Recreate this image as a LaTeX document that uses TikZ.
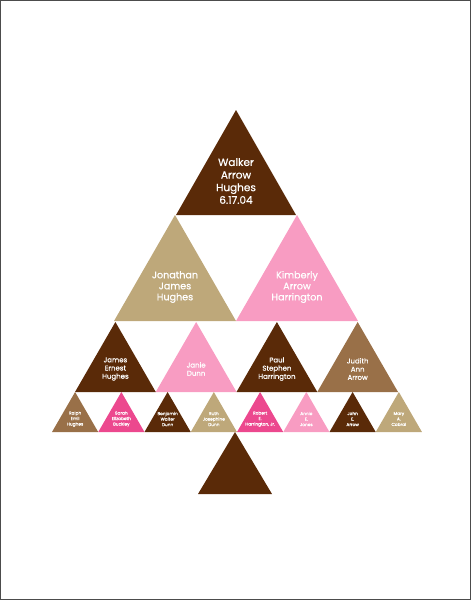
\documentclass[tikz,border=0pt]{standalone}
\usepackage{fontspec}
\setmainfont{Poppins}
\newfontfamily\namefont{Poppins}[FakeBold=0.6]
\definecolor{darkbrown}{RGB}{90,42,8}
\definecolor{midbrown}{RGB}{153,112,72}
\definecolor{khaki}{RGB}{190,168,122}
\definecolor{lightpink}{RGB}{248,156,194}
\definecolor{hotpink}{RGB}{236,72,142}
\tikzset{nametext/.style={text=white,align=center,inner sep=0pt}}

\begin{document}
\begin{tikzpicture}[x=1pt,y=-1pt]
    \useasboundingbox (0,0) rectangle (471,600);
    % Marco de la hoja.
    \draw[black!70,line width=1.2pt] (0.6,0.6) rectangle (470.4,599.4);

    % Vértice superior.
    \fill[darkbrown] (236,110) -- (296,215) -- (176,215) -- cycle;
    \node[nametext,font=\namefont\fontsize{10.5}{12.6}\selectfont] (walker) at (236,181)
        {Walker\\Arrow\\Hughes\\6.17.04};

    % Padres.
    \foreach \i/\col/\nm/\txt in {0/khaki/jonathan/{Jonathan\\James\\Hughes},
        1/lightpink/kimberly/{Kimberly\\Arrow\\Harrington}}{
        \pgfmathsetmacro{\ax}{175+122*\i}
        \fill[\col] (\ax,215) -- (\ax+61,321) -- (\ax-61,321) -- cycle;
        \node[nametext,font=\namefont\fontsize{9.6}{11}\selectfont] (\nm) at (\ax,287) {\txt};
    }

    % Abuelos.
    \foreach \i/\col/\nm/\txt in {0/darkbrown/james/{James\\Ernest\\Hughes},
        1/lightpink/janie/{Janie\\Dunn},
        2/darkbrown/paul/{Paul\\Stephen\\Harrington},
        3/midbrown/judith/{Judith\\Ann\\Arrow}}{
        \pgfmathsetmacro{\ax}{115.4+80.75*\i}
        \fill[\col] (\ax,322) -- (\ax+40.4,392) -- (\ax-40.4,392) -- cycle;
        \node[nametext,font=\namefont\fontsize{7}{8.2}\selectfont] (\nm) at (\ax,369) {\txt};
    }

    % Bisabuelos.
    \foreach \i/\col/\nm/\txt in {0/midbrown/ralph/{Ralph\\Emil\\Hughes},
        1/hotpink/sarah/{Sarah\\Elizabeth\\Buckley},
        2/darkbrown/benjamin/{Benjamin\\Walter\\Dunn},
        3/khaki/ruth/{Ruth\\Josephine\\Dunn},
        4/hotpink/robert/{Robert\\E.\\Harrington, Jr.},
        5/lightpink/annie/{Annie\\E.\\Jones},
        6/darkbrown/john/{John\\E.\\Arrow},
        7/khaki/mary/{Mary\\A.\\Cabral}}{
        \pgfmathsetmacro{\ax}{75.1+46.25*\i}
        \fill[\col] (\ax,392) -- (\ax+23.1,432) -- (\ax-23.1,432) -- cycle;
        \node[nametext,font=\namefont\fontsize{4.3}{5.5}\selectfont] (\nm) at (\ax,419) {\txt};
    }

    % Tronco.
    \fill[darkbrown] (235,432) -- (272,494) -- (198,494) -- cycle;
\end{tikzpicture}
\end{document}
